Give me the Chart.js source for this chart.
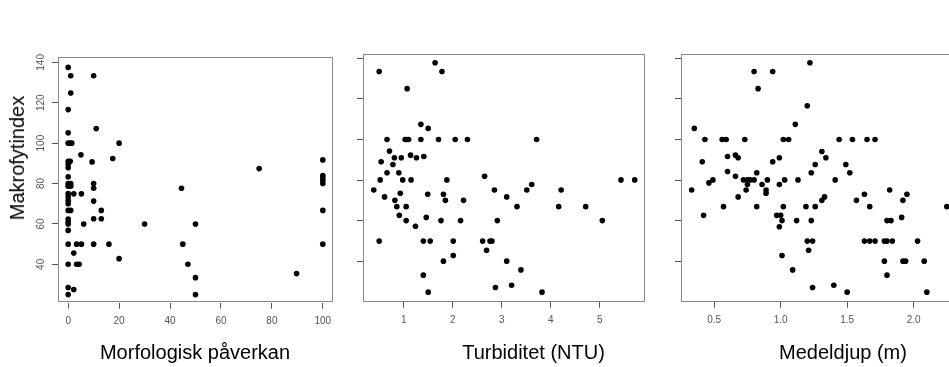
<!DOCTYPE html>
<html><head><meta charset="utf-8">
<script src="https://cdn.jsdelivr.net/npm/chart.js@4/dist/chart.umd.min.js"></script>
<style>
html,body{margin:0;padding:0;background:#fff;}
body{width:949px;height:367px;overflow:hidden;position:relative;}
canvas{position:absolute;top:0;}
.t{position:absolute;font-family:"Liberation Sans",Arial,sans-serif;font-size:20px;line-height:20px;color:#000;white-space:nowrap;}
</style></head>
<body>
<canvas id="c1" width="340" height="367" style="left:0px"></canvas>
<canvas id="c2" width="320" height="367" style="left:330px"></canvas>
<canvas id="c3" width="340" height="367" style="left:660px"></canvas>
<div class="t" id="yt" style="left:17px;top:157.5px;transform:translate(-50%,-50%) rotate(-90deg);"></div>
<div class="t" id="t1" style="left:195px;top:341.5px;transform:translateX(-50%);"></div>
<div class="t" id="t2" style="left:533.5px;top:341.5px;transform:translateX(-50%);"></div>
<div class="t" id="t3" style="left:843px;top:341.5px;transform:translateX(-50%);"></div>
<script>
// ---- data ----
const yTitle = "Makrofytindex";
const xTitles = ["Morfologisk påverkan", "Turbiditet (NTU)", "Medeldjup (m)"];

const yTicks = [40, 60, 80, 100, 120, 140];
const morfTicks = [0, 20, 40, 60, 80, 100];
const turbTicks = [1, 2, 3, 4, 5];
const djupTicks = [0.5, 1.0, 1.5, 2.0];
const djupTickLabels = ["0.5", "1.0", "1.5", "2.0"];

const morfX = [0,1,10,1,0,11,0, 0,0.7,1.4,20, 5,17.5,9.4, 0,0.8,0,0, 0,75,
  100,100,100,100,100, 0,1,0,1,10,10,44.5, 2.2,5.2,0,0,0,0,10,
  0,1,13,100, 0,0,0,10,13,6.1,30,50, 0, 0,3.3,5.2,10,16,45,100,
  2.2,20, 0,3.3,4.3,47, 50,89.7, 0,2.2,0,50];
const morfY = [137.5,133.4,133.4,124.8,116.6,107.2,105.1, 100,100,100,100, 94.2,92.4,90.7, 91,91,89.4,87.8, 83.3,87.4,
  91.7,84,82.8,81.5,80, 80,80,78.7,78.7,80,77.7,77.7, 74.9,74.9,75,73.3,71.6,70,71.3,
  66.7,66.7,66.7,66.7, 62.4,60.9,60,62.6,62.6,60,60,60, 56.8, 50,50,50,50,50,50,50,
  45.6,42.8, 40,40,40,40, 33.4,35.4, 28.5,27.5,25,25];

const turbX = [1.64,0.50,1.78,1.07,1.35,1.50,
  0.66,1.03,1.06,1.10,1.35,1.71,2.05,2.30,3.71,
  0.71,0.81,0.95,1.14,1.26,1.41,0.54,0.78,
  0.66,0.90,2.65,
  0.52,0.98,1.15,1.88,5.43,5.71,
  3.61,0.39,2.85,3.51,4.21,
  0.61,0.93,1.49,1.81,3.10,
  0.82,1.85,2.22,
  0.86,1.05,3.31,4.16,4.71,
  0.91,1.46,1.05,1.76,2.16,2.91,5.05,1.24,
  0.50,1.40,1.54,2.01,2.61,2.76,2.80,
  2.69,2.01,1.81,3.10,3.39,1.40,
  2.87,3.20,1.50,3.82];
const turbY = [137.9,133.6,133.6,125.1,107.5,105.5,
  100,100,100,100,100,100,100,100,100,
  94.3,91,91,92.3,91,91.6,89,87.7,
  83.6,83.6,81.9,
  80.1,80.1,80.1,80.1,80.1,80.1,
  77.8,75.1,75.1,75.1,75.1,
  71.7,73.5,73,73,71.7,
  70,70,70,
  66.9,66.9,66.9,66.9,66.9,
  62.6,61.6,60,60,60,60,60,57.2,
  49.9,49.9,49.9,49.9,49.9,49.9,49.9,
  45.4,42.8,40,40,35.7,33.1,
  27,28.1,24.7,24.7];

const djupX = [1.22,0.80,0.94,0.83,1.20,0.35,1.11,
  0.43,0.56,0.59,0.73,1.02,1.06,1.44,1.54,1.65,1.71,
  1.31,1.34,0.60,0.66,0.68,0.99,0.94,0.41,1.26,1.49,
  0.60,0.82,1.23,1.52,0.66,
  0.49,0.46,0.72,0.75,0.77,0.80,0.90,1.03,1.13,1.41,
  0.75,0.99,0.86,
  0.33,0.74,0.89,0.89,1.82,1.63,1.95,
  0.68,1.33,1.31,1.57,1.92,
  0.57,0.82,1.02,1.19,1.26,1.67,2.25,
  0.42,0.97,1.00,1.91,
  1.01,1.12,1.23,1.80,1.83,0.99,
  1.20,1.24,1.63,1.67,1.71,1.78,1.80,1.84,2.03,
  1.21,1.01,1.78,1.92,1.94,2.08,1.09,1.80,
  1.24,1.40,1.50,2.10];
const djupY = [137.9,133.6,133.6,125.1,116.7,105.5,107.5,
  100,100,100,100,100,100,100,100,100,100,
  94.1,91,91.6,92.3,91,91,89,89,87.7,87.7,
  84.2,83.6,83.6,83.6,81.9,
  80.1,78.6,80.1,80.1,80.1,80.1,80.1,80.1,80.1,80.1,
  77.8,77.8,77.8,
  75.1,75.1,75.1,73.5,75.1,73,73,
  71.7,71.7,70,70,70,
  66.9,66.9,66.9,66.9,66.9,66.9,66.9,
  62.6,62.6,62.6,61.6,
  60,60,60,60,60,57,
  49.9,49.9,49.9,49.9,49.9,49.9,49.9,49.9,49.9,
  45.4,42.8,40,40,40,40,35.7,33.1,
  27,28.1,24.7,24.7];

// ---- rendering ----
const FONT = "'Liberation Sans', Arial, sans-serif";
const boxPlugin = {
  id: 'box',
  beforeDatasetsDraw(c) {
    const a = c.chartArea, ctx = c.ctx;
    ctx.save();
    ctx.strokeStyle = '#8a8a8a';
    ctx.lineWidth = 1;
    ctx.strokeRect(Math.round(a.left) + 0.5, Math.round(a.top) + 0.5,
      Math.round(a.right - a.left) - 1, Math.round(a.bottom - a.top) - 1);
    ctx.restore();
  }
};

function makePanel(id, xs, ys, xTicks, xLabels, xmin, xmax, ymin, ymax, layout, showY) {
  const pts = xs.map((x, i) => ({x: x, y: ys[i]}));
  return new Chart(document.getElementById(id), {
    type: 'scatter',
    data: {datasets: [{data: pts, backgroundColor: '#000', borderColor: '#000',
      pointRadius: 2.8, pointBorderWidth: 0, pointHoverRadius: 2.8}]},
    plugins: [boxPlugin],
    options: {
      responsive: false, animation: false, events: [],
      layout: {padding: layout.pad},
      plugins: {legend: {display: false}, tooltip: {enabled: false}},
      scales: {
        x: {
          type: 'linear', min: xmin, max: xmax,
          afterBuildTicks: s => { s.ticks = xTicks.map(v => ({value: v})); },
          afterFit: s => { s.height = layout.xh; },
          grid: {display: true, drawOnChartArea: false, drawTicks: true, tickLength: 6, color: '#555'},
          border: {display: false},
          ticks: {font: {family: FONT, size: 10}, color: '#555', padding: 7,
            maxRotation: 0, minRotation: 0, autoSkip: false,
            callback: (v, i) => xLabels[i]}
        },
        y: {
          type: 'linear', min: ymin, max: ymax,
          afterBuildTicks: s => { s.ticks = yTicks.map(v => ({value: v})); },
          afterFit: s => { s.width = layout.yw; },
          grid: {display: true, drawOnChartArea: false, drawTicks: true, tickLength: 6, color: '#555'},
          border: {display: false},
          ticks: {display: showY, font: {family: FONT, size: 10}, color: '#555', padding: 2,
            minRotation: 90, maxRotation: 90, crossAlign: 'center', autoSkip: false,
            callback: (v) => String(v)}
        }
      }
    }
  });
}

makePanel('c1', morfX, morfY, morfTicks, morfTicks.map(String), -4, 104, 21, 142.5,
  {pad: {left: 0, right: 7, top: 57.3, bottom: 367 - 302.7 - 40}, xh: 40, yw: 58}, true);
makePanel('c2', turbX, turbY, turbTicks, turbTicks.map(String), 0.17, 5.92, 20, 142.2,
  {pad: {left: 0, right: 5, top: 54, bottom: 367 - 301.7 - 40}, xh: 40, yw: 33}, false);
makePanel('c3', djupX, djupY, djupTicks, djupTickLabels, 0.25, 2.59, 20, 142.2,
  {pad: {left: 0, right: 8, top: 54, bottom: 367 - 301.7 - 40}, xh: 40, yw: 21}, false);

document.getElementById('yt').textContent = yTitle;
document.getElementById('t1').textContent = xTitles[0];
document.getElementById('t2').textContent = xTitles[1];
document.getElementById('t3').textContent = xTitles[2];
</script>
</body></html>
